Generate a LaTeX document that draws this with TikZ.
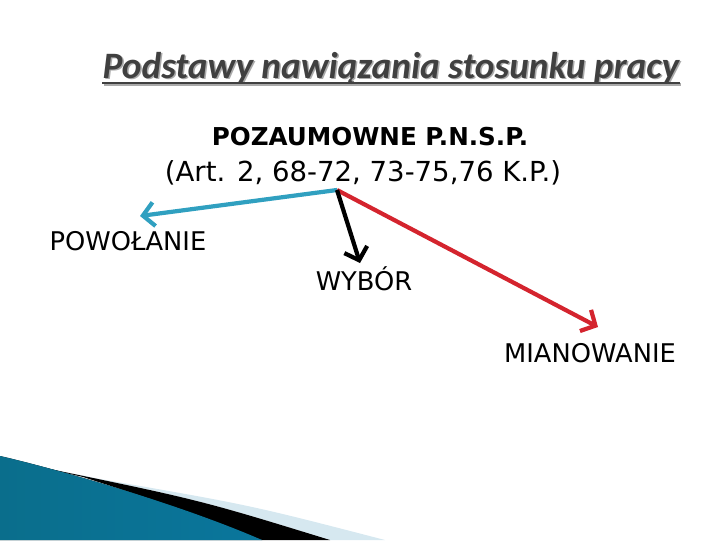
\documentclass[tikz,border=0pt]{standalone}
\usepackage{fontspec}
\setmainfont{DejaVu Sans}
\newfontfamily\titlefont{Carlito}
\usetikzlibrary{arrows.meta}

\definecolor{titlegray}{RGB}{64,64,64}
\definecolor{shadowgray}{RGB}{170,170,170}
\definecolor{arrowblue}{RGB}{48,160,192}
\definecolor{arrowred}{RGB}{212,36,46}
\definecolor{swooshdark}{RGB}{10,110,140}
\definecolor{swooshmid}{RGB}{96,196,230}
\definecolor{swooshend}{RGB}{10,118,156}
\definecolor{swooshpale}{RGB}{214,232,240}

\begin{document}
\begin{tikzpicture}[x=0.025cm,y=-0.025cm,>={Straight Barb[length=8pt,width=17pt]}]

    \tikzstyle{title}=[font=\titlefont\bfseries\itshape\fontsize{26.5}{30}\selectfont,inner sep=0pt,anchor=base]
    \tikzstyle{head}=[font=\fontsize{17.5}{21}\selectfont,inner sep=0pt,anchor=base]
    \tikzstyle{label}=[font=\fontsize{18.3}{22}\selectfont,inner sep=0pt,anchor=base]
    \tikzstyle{link}=[line width=3pt,->]

    \useasboundingbox (0,0) rectangle (720,540);

    % swoosh in the corner
    \fill[swooshpale] (40,467) .. controls (200,500) .. (330,540) -- (385,540)
        .. controls (250,505) .. (100,479) -- cycle;
    \fill[black] (40,467) .. controls (200,500) .. (330,540) -- (262,540)
        .. controls (170,505) .. (83,477) -- cycle;
    \fill[left color=swooshdark,middle color=swooshmid,right color=swooshend]
        (0,456) .. controls (40,465) and (170,500) .. (262,540) -- (0,540) -- cycle;

    % title
    \node [title,text=shadowgray] (shadow) at (392.5,79.5) {Podstawy nawiązania stosunku pracy};
    \draw [shadowgray,line width=2pt] ([yshift=-3.5pt]shadow.base west) -- ([yshift=-3.5pt]shadow.base east);
    \node [title,text=titlegray] (title) at (391,78) {Podstawy nawiązania stosunku pracy};
    \draw [titlegray,line width=2pt] ([yshift=-3.5pt]title.base west) -- ([yshift=-3.5pt]title.base east);

    \node [head,font=\bfseries\fontsize{17.5}{21}\selectfont] (pnsp) at (370,145) {POZAUMOWNE P.N.S.P.};
    \node [head,font=\fontsize{19.6}{23}\selectfont] (art) at (363,181) {(Art. 2, 68-72, 73-75,76 K.P.)};

    \coordinate (hub) at (337,190);
    \coordinate (tipp) at (140,216);
    \coordinate (tipw) at (360,263);
    \coordinate (tipm) at (598,327);

    \node [label] (powolanie) at (128,250) {POWOŁANIE};
    \node [label] (wybor) at (364,290) {WYBÓR};
    \node [label] (mianowanie) at (590,362) {MIANOWANIE};

    \draw [link,arrowblue] (hub) -- (tipp);
    \draw [link,arrowred] (hub) -- (tipm);
    \draw [link,black] (hub) -- (tipw);
\end{tikzpicture}
\end{document}
